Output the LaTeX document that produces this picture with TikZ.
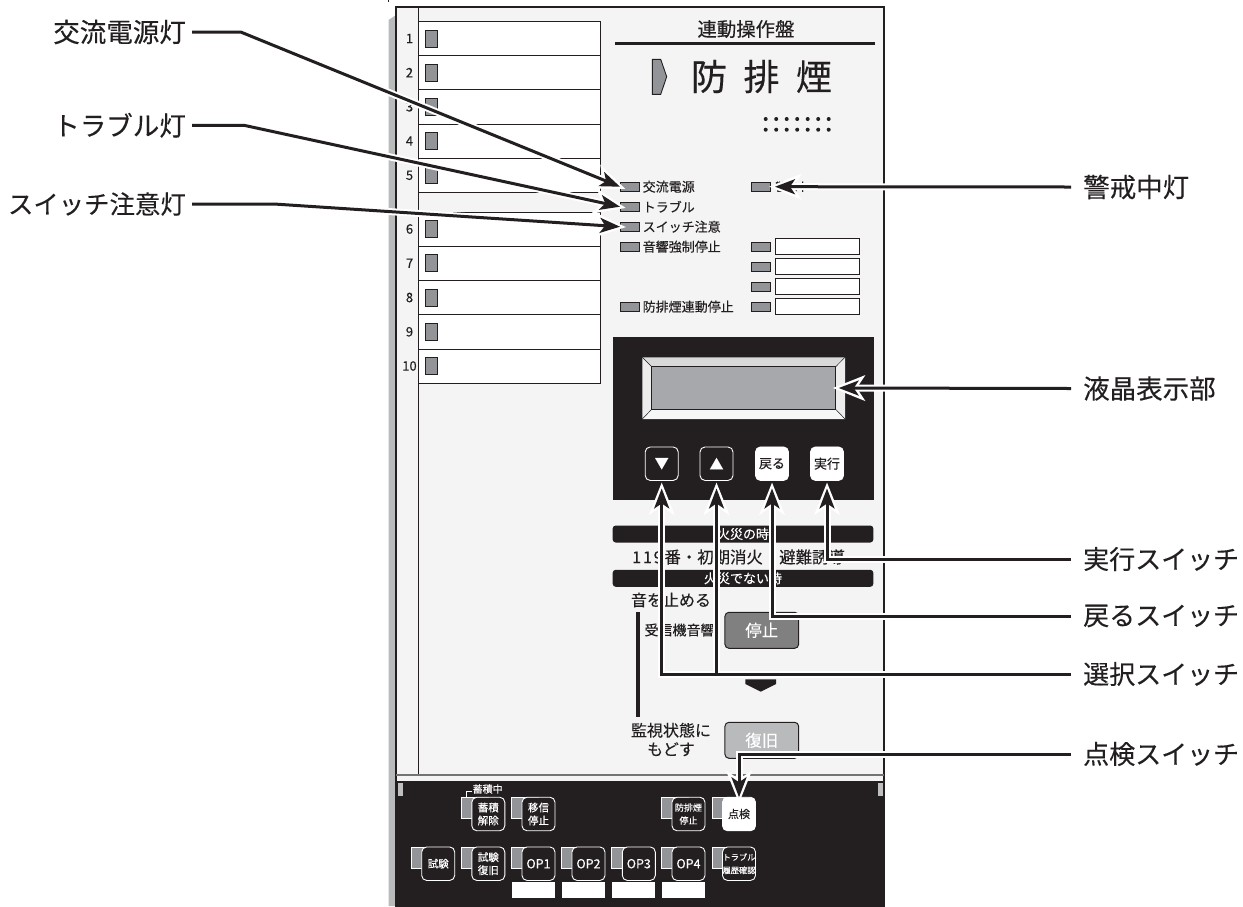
\documentclass[tikz,border=0pt]{standalone}
\usepackage{fontspec}
\setmainfont{Noto Sans CJK JP}[FakeBold=0.25]
\usetikzlibrary{arrows.meta, positioning}
\definecolor{mInk}{HTML}{231F20}
\definecolor{mPanel}{HTML}{F4F4F4}
\definecolor{mShadow}{HTML}{B9BABC}
\definecolor{mLamp}{HTML}{939497}
\definecolor{mScreen}{HTML}{A6A8AB}
\tikzset{
  chanrow/.style={draw=mInk, line width=0.9pt, fill=white, minimum width=182pt, minimum height=34.2pt, inner sep=0pt, outer sep=0pt, anchor=north west},
  chanled/.style={draw=mInk, line width=0.9pt, fill=mLamp, minimum width=12.5pt, minimum height=17pt, inner sep=0pt, outer sep=0pt, anchor=north west},
  channo/.style={text=mInk, font=\fontsize{13}{13}\selectfont, inner sep=0pt},
  ledbar/.style={draw=mInk, line width=0.9pt, fill=mLamp, minimum width=19pt, minimum height=9.5pt, inner sep=0pt, outer sep=0pt},
  ledtext/.style={text=mInk, font=\fontsize{13}{13}\selectfont, inner sep=0pt, anchor=west},
  namebox/.style={draw=mInk, line width=0.9pt, fill=white, minimum width=84pt, minimum height=16pt, inner sep=0pt, outer sep=0pt},
  keydark/.style={draw=white, line width=0.9pt, fill=mInk, text=white, rounded corners=5pt, minimum width=33pt, minimum height=33.5pt, inner sep=0pt, outer sep=0pt, align=center, font=\fontsize{13}{14}\selectfont},
  keywhite/.style={keydark, fill=white, text=mInk},
  alertbar/.style={fill=mInk, text=white, rounded corners=3pt, minimum width=260.6pt, minimum height=17pt, inner sep=0pt, font=\fontsize{13}{13}\selectfont},
  guidetext/.style={text=mInk, inner sep=0pt, align=center, font=\fontsize{16}{19}\selectfont},
  opkey/.style={draw=mInk, line width=1pt, text=white, rounded corners=4pt, minimum width=73.7pt, minimum height=36pt, inner sep=0pt, font=\fontsize{16.5}{16.5}\selectfont},
  callname/.style={text=mInk, font=\fontsize{26.5}{26.5}\selectfont, inner ysep=0pt},
  callouthalo/.style={draw=white, line width=7pt, -{Stealth[length=32pt,width=25pt,inset=8pt]}, shorten >=#1-6pt},
  callouthalo/.default=0pt,
  calloutline/.style={draw=mInk, line width=3pt, -{Stealth[length=20pt,width=15pt,inset=5pt]}, shorten >=#1},
  calloutline/.default=0pt
}
\begin{document}
\begin{tikzpicture}[x=1pt, y=-1pt]
    \useasboundingbox (0,0) rectangle (1243,906);
    % panel body
    \fill[mShadow] (396,15) -- (388.5,20) -- (388.5,906) -- (396,906) -- cycle;
    \draw[mInk, line width=1.1pt, fill=mPanel] (396,7) rectangle (884,906);
    \draw[mInk, line width=0.9pt] (418,7) -- (418,775);
    \draw[mInk, line width=0.6pt] (388,0) -- (388,2);

    % channel rows
    \foreach \rowy [count=\i] in {21.5,55.6,89.8,124,158.3,212,246.3,280.5,314.8,349} {
      \node[chanrow] (row\i) at (418.5,\rowy) {};
      \node[chanled] (chanled\i) at (425,\rowy+8.5) {};
      \node[channo] (channo\i) at (409.5,\rowy+17) {\i};
    }

    % title
    \node[text=mInk, inner sep=0pt, font=\fontsize{19.4}{19.4}\selectfont] (titleText) at (746,29) {連動操作盤};
    \draw[mInk, line width=3pt] (615,43.5) -- (875,43.5);
    \fill[mLamp, draw=mInk, line width=0.9pt] (652.3,59.3) -- (660.7,59.3) -- (666.7,76.7) -- (660.7,94.3) -- (652.3,94.3) -- cycle;
    \node[text=mInk, inner sep=0pt, font=\fontsize{36}{36}\selectfont] (modeText) at (761.5,76.5) {防\hspace{16.5pt}排\hspace{16.5pt}煙};
    \foreach \dx in {0,...,6} {
      \fill[mInk] (765.7+\dx*10.5,119) circle (2pt);
      \fill[mInk] (765.7+\dx*10.5,129.7) circle (2pt);
    }

    % indicator lamps
    \foreach \nm/\ly/\txt in {AC/186.7/交流電源, Trouble/206.7/トラブル, Switch/226.7/スイッチ注意, Sound/246.7/音響強制停止, Link/306.7/防排煙連動停止} {
      \node[ledbar] (led\nm) at (629.5,\ly) {};
      \node[ledtext] (text\nm) at (642.5,\ly) {\txt};
    }
    \node[ledbar] (ledGuard) at (761.2,186.7) {};
    \node[ledtext, font=\fontsize{11}{11}\selectfont] (textGuard) at (775,186.7) {警戒中};
    \foreach \ly [count=\i] in {246.7,266.7,286.7,306.7} {
      \node[ledbar] (ledBox\i) at (761.2,\ly) {};
      \node[namebox] (nameBox\i) at (817.7,\ly) {};
    }

    % display panel
    \fill[mInk] (613,336.7) rectangle (874,500);
    \fill[black!15] (642.3,357.3) -- (845,357.3) -- (835.7,366.7) -- (651.7,366.7) -- cycle;
    \fill[black!7] (642.3,357.3) -- (651.7,366.7) -- (651.7,409.3) -- (642.3,419) -- cycle;
    \fill[black!7] (845,357.3) -- (835.7,366.7) -- (835.7,409.3) -- (845,419) -- cycle;
    \fill[black!3] (642.3,419) -- (651.7,409.3) -- (835.7,409.3) -- (845,419) -- cycle;
    \draw[mInk, line width=0.5pt] (642.3,357.3) -- (651.7,366.7) (845,357.3) -- (835.7,366.7) (642.3,419) -- (651.7,409.3) (845,419) -- (835.7,409.3);
    \node[draw=mInk, line width=0.8pt, fill=mScreen, minimum width=184pt, minimum height=42.6pt, inner sep=0pt, outer sep=0pt] (lcdScreen) at (743.7,388) {};
    \node[keydark, font=\fontsize{14}{14}\selectfont] (keyDown) at (661.7,463.7) {▼};
    \node[keydark, font=\fontsize{14}{14}\selectfont] (keyUp) at (716.5,463.7) {▲};
    \node[keywhite] (keyBack) at (772,463.7) {戻る};
    \node[keywhite] (keyExec) at (827,463.7) {実行};

    % guidance
    \node[alertbar] (barFire) at (743,534) {火災の時};
    \node[guidetext, font=\fontsize{16.4}{16.4}\selectfont] (textFire) at (738.5,557) {1\kern1.7pt1\kern1.7pt9\kern1.7pt番・初期消火・避難誘導};
    \node[alertbar] (barNoFire) at (743,578.3) {火災でない時};
    \node[guidetext] (textStop) at (671,600) {音を止める};
    \node[guidetext, font=\fontsize{14}{14}\selectfont] (textSound) at (679.5,630) {受信機音響};
    \node[opkey, fill=black!50] (keyStop) at (761.8,630.3) {停止};
    \fill[mInk] (745.3,679.3) -- (776,679.3) -- (776,684) -- (760.7,691.7) -- (745.3,684) -- cycle;
    \node[guidetext] (textReset) at (671,739.5) {監視状態に\\もどす};
    \node[opkey, fill=mShadow] (keyReset) at (761.8,740.3) {復旧};
    \coordinate (barTop) at (637.7,612.3);
    \coordinate (barEnd) at (637.7,717);
    \draw[mInk, line width=4pt] (barTop) -- (barEnd);

    % operation panel
    \fill[black!55] (396,774) rectangle (884,775.6);
    \fill[mInk] (396,781) rectangle (884,906);
    \fill[black!25] (397.7,783.3) rectangle (403.3,795.7);
    \fill[black!25] (877.7,783.3) rectangle (883.3,795.7);
    \foreach \nm/\bx/\by/\fz/\txt in {
      Hold/488.3/814/10.5/{蓄積\\解除}, Relay/538.5/814/10.5/{移信\\停止}, Smoke/688.5/814/9/{防排煙\\停止},
      Test/438.2/863.7/10.5/{試験}, TestBack/488.3/863.7/10.5/{試験\\復旧},
      Opa/538.5/863.7/12.5/{OP1}, Opb/588.5/863.7/12.5/{OP2}, Opc/638.8/863.7/12.5/{OP3}, Opd/688.5/863.7/12.5/{OP4},
      Log/739/863.7/8.2/{トラブル\\履歴確認}} {
      \fill[mLamp, draw=white, line width=0.5pt] (\bx-27.2,\by-16.7) rectangle (\bx,\by+4.5);
      \node[keydark, font=\fontsize{\fz}{13}\selectfont] (op\nm) at (\bx,\by) {\txt};
    }
    \fill[mLamp, draw=white, line width=0.5pt] (711.8,797.3) rectangle (739,818.5);
    \node[keywhite, font=\fontsize{11}{11}\selectfont] (opCheck) at (739,814) {点検};
    \node[text=white, inner sep=0pt, font=\fontsize{10}{10}\selectfont] (textHold) at (487.7,789) {蓄積中};
    \coordinate (holdA) at (466.7,797.3);
    \coordinate (holdB) at (472,791);
    \draw[white, line width=0.7pt] (holdA) |- (holdB);
    \foreach \bx in {512,562,612,662} {
      \fill[white] (\bx,882) rectangle (\bx+43,897.7);
    }

    % callouts
    \node[callname, anchor=east, inner xsep=6pt] (nameAC) at (192,32) {交流電源灯};
    \node[callname, anchor=east, inner xsep=6pt] (nameTrouble) at (192,125.3) {トラブル灯};
    \node[callname, anchor=east, inner xsep=6pt, font=\fontsize{25.4}{25.4}\selectfont] (nameSwitch) at (192,204) {スイッチ注意灯};
    \node[callname, anchor=west, inner xsep=12pt] (nameGuard) at (1071,187) {警戒中灯};
    \node[callname, anchor=west, inner xsep=12pt] (nameLcd) at (1071,388.5) {液晶表示部};
    \node[callname, anchor=west, inner xsep=12pt, font=\fontsize{26}{26}\selectfont] (nameExec) at (1071,559) {実行スイッチ};
    \node[callname, anchor=west, inner xsep=12pt, font=\fontsize{26}{26}\selectfont] (nameBack) at (1071,616) {戻るスイッチ};
    \node[callname, anchor=west, inner xsep=12pt, font=\fontsize{26}{26}\selectfont] (nameSelect) at (1071,674) {選択スイッチ};
    \node[callname, anchor=west, inner xsep=12pt, font=\fontsize{26}{26}\selectfont] (nameCheck) at (1071,754) {点検スイッチ};
    \coordinate (bendAC) at (240.7,32);
    \coordinate (bendTrouble) at (244,125.3);
    \coordinate (bendSwitch) at (274,204);
    \coordinate (joinSelect) at (716.5,674);
    \foreach \pass in {callouthalo, calloutline} {
      \draw[\pass] (nameAC.east) -- (bendAC) -- (ledAC.west);
      \draw[\pass] (nameTrouble.east) -- (bendTrouble) -- (ledTrouble.west);
      \draw[\pass] (nameSwitch.east) -- (bendSwitch) -- (ledSwitch.west);
      \draw[\pass] (nameGuard.west) -- (textGuard.west);
      \draw[\pass=3pt] (nameLcd.west) -- (lcdScreen.east);
      \draw[\pass=8pt] (nameExec.west) -| (keyExec.south);
      \draw[\pass=8pt] (nameBack.west) -| (keyBack.south);
      \draw[\pass=8pt] (nameSelect.west) -| (keyDown.south);
      \draw[\pass=8pt] (joinSelect) -- (keyUp.south);
      \draw[\pass] (nameCheck.west) -| (opCheck.north);
    }
  \end{tikzpicture}
\end{document}
